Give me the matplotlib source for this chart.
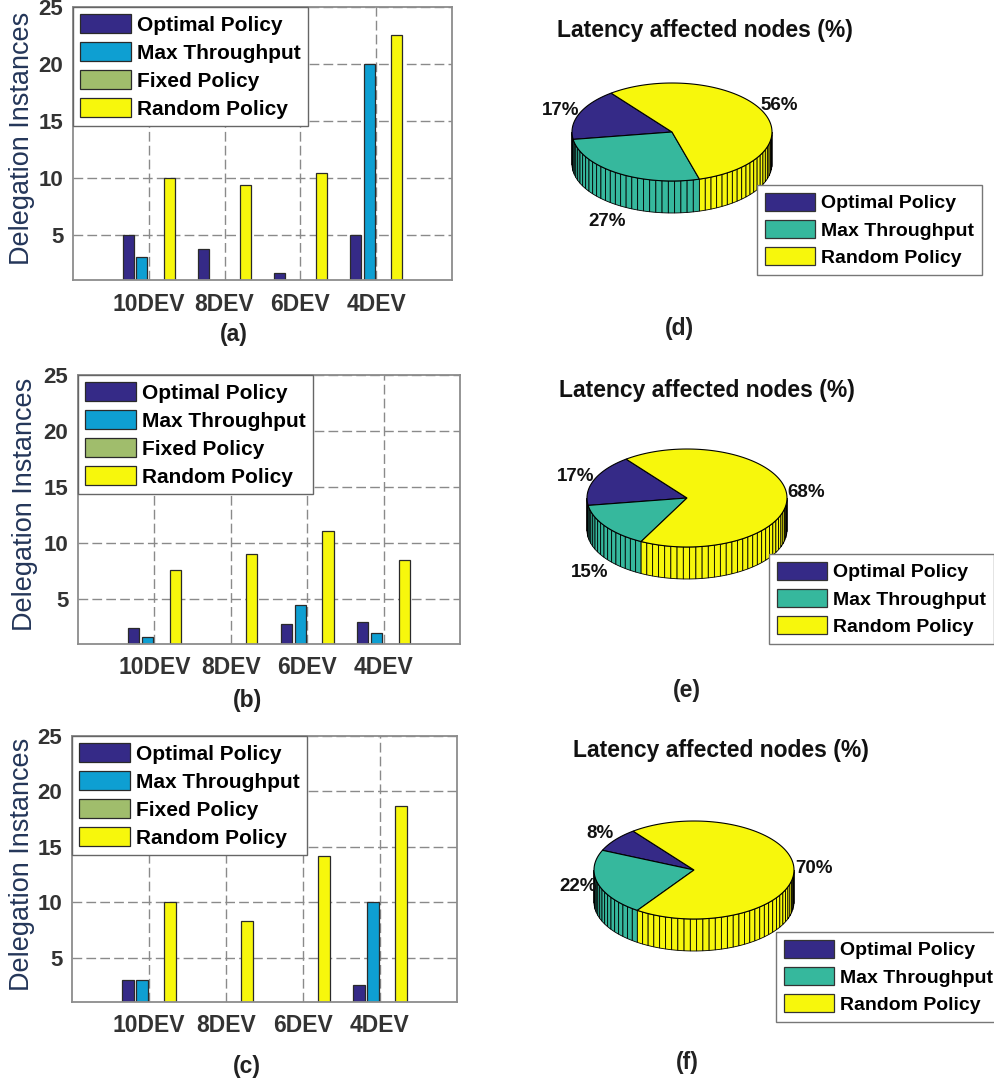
import numpy as np
import matplotlib
matplotlib.use("Agg")
import matplotlib.pyplot as plt
from matplotlib.patches import Patch

plt.rcParams['font.family'] = ['Liberation Sans', 'DejaVu Sans']

# bar chart data (delegation instances per device count)
devices = ['10DEV', '8DEV', '6DEV', '4DEV']
bar_policies = ['Optimal Policy', 'Max Throughput', 'Fixed Policy', 'Random Policy']

a_optimal = [5.0, 3.75, 1.6, 5.0]
a_maxtp = [3.0, 0.0, 0.0, 20.0]
a_fixed = [0.0, 0.0, 0.0, 0.0]
a_random = [10.0, 9.35, 10.4, 22.5]

b_optimal = [2.4, 0.0, 2.8, 3.0]
b_maxtp = [1.6, 0.0, 4.5, 2.0]
b_fixed = [0.0, 0.0, 0.0, 0.0]
b_random = [7.6, 9.0, 11.1, 8.5]

c_optimal = [3.0, 0.0, 0.0, 2.5]
c_maxtp = [3.0, 0.0, 0.0, 10.0]
c_fixed = [0.0, 0.0, 0.0, 0.0]
c_random = [10.0, 8.3, 14.2, 18.7]

y_ticks = [5, 10, 15, 20, 25]

# pie chart data (latency affected nodes, %)
pie_policies = ['Optimal Policy', 'Max Throughput', 'Random Policy']
d_share = [17, 27, 56]
e_share = [17, 15, 68]
f_share = [8, 22, 70]

bar_colors = ['#352a87', '#0e9fd2', '#a0bd6c', '#f7f70c']
pie_colors = ['#352a87', '#36b89d', '#f7f70c']

W, H = 994, 1084
fig = plt.figure(figsize=(W / 100, H / 100), dpi=100)


def box(left, top, right, bottom):
    return [left / W, 1 - bottom / H, (right - left) / W, (bottom - top) / H]


def fpos(x, y):
    return (x / W, 1 - y / H)


def bar_panel(rect, series, ylab_x, caption, cap_xy):
    ax = fig.add_axes(box(*rect))
    x = np.arange(1, len(devices) + 1)
    n = len(series)
    gw = min(0.8, n / (n + 1.5))
    bw = gw / n
    for i, vals in enumerate(series):
        off = (i - (n - 1) / 2) * bw
        ax.bar(x + off, vals, width=bw * 0.8, color=bar_colors[i],
               edgecolor='#2a2a2a', linewidth=0.9, label=bar_policies[i])
    ax.set_xlim(0, 5)
    ax.set_ylim(1, 25)
    ax.set_xticks(x)
    ax.set_xticklabels(devices, fontsize=16.5, fontweight='bold')
    ax.set_yticks(y_ticks)
    ax.set_yticklabels([str(t) for t in y_ticks], fontsize=16, fontweight='bold')
    ax.tick_params(length=0, labelcolor='#333333')
    ax.tick_params(axis='x', pad=9)
    ax.tick_params(axis='y', pad=7)
    ax.set_axisbelow(True)
    ax.grid(True, color='#8a8a8a', linestyle=(0, (7, 3)), linewidth=1.0)
    for s in ax.spines.values():
        s.set_color('#8c8c8c')
        s.set_linewidth(1.3)
    leg = ax.legend(loc='upper left', bbox_to_anchor=(0, 1), borderaxespad=0,
                    handlelength=2.45, handleheight=1.0,
                    handletextpad=0.25, labelspacing=0.36, borderpad=0.35,
                    fancybox=False, framealpha=1,
                    prop={'weight': 'bold', 'size': 15})
    leg.get_frame().set_edgecolor('#666666')
    leg.get_frame().set_linewidth(1.0)
    cy = (rect[1] + rect[3]) / 2 - 5
    fig.text(*fpos(ylab_x, cy), 'Delegation Instances', rotation=90,
             ha='center', va='center', fontsize=19.5, color='#243659')
    fig.text(*fpos(*cap_xy), caption, ha='center', va='center',
             fontsize=16.5, fontweight='bold', color='#222222')
    return ax


def pie_panel(center, shares, title, title_xy, caption, cap_xy, leg_xy):
    cx, cy = center
    ax = fig.add_axes(box(cx - 170, cy - 150, cx + 170, cy + 150))
    ax.set_xlim(-1.7, 1.7)
    ax.set_ylim(-1.5, 1.5)
    ax.axis('off')
    k = 0.49      # flattening of the top ellipse
    t = 0.32      # height of the cylinder side
    total = float(sum(shares))
    start = 127.5
    bounds = []
    for v in shares:
        span = 360.0 * v / total
        bounds.append((start, start + span))
        start += span

    # side facets on the visible front half
    for (a1, a2), col in zip(bounds, pie_colors):
        nf = max(2, int(np.ceil(100 * (a2 - a1) / 360.0)))
        grid = np.linspace(a1, a2, nf + 1)
        for g1, g2 in zip(grid[:-1], grid[1:]):
            lo, hi = max(g1, 180.0), min(g2, 360.0)
            if hi <= lo:
                continue
            th = np.radians(np.linspace(lo, hi, 4))
            xs = np.cos(th)
            ys = k * np.sin(th)
            px = np.concatenate([xs, xs[::-1]])
            py = np.concatenate([ys, ys[::-1] - t])
            ax.fill(px, py, facecolor=col, edgecolor='black', linewidth=0.6)

    # top surface wedges
    for (a1, a2), col in zip(bounds, pie_colors):
        th = np.radians(np.linspace(a1, a2, 120))
        px = np.concatenate([[0], np.cos(th), [0]])
        py = np.concatenate([[0], k * np.sin(th), [0]])
        ax.fill(px, py, facecolor=col, edgecolor='black', linewidth=0.8)

    # percentage labels
    for (a1, a2), v in zip(bounds, shares):
        m = np.radians((a1 + a2) / 2)
        lx, ly = 1.2 * np.cos(m), 1.2 * k * np.sin(m)
        va = 'center'
        if np.sin(m) < -0.5:
            ly -= t
            va = 'top'
        ax.text(lx, ly, f'{v}%', ha='center', va=va, fontsize=13.5,
                fontweight='bold', color='#111111')

    handles = [Patch(facecolor=c, edgecolor='#333333', linewidth=0.9) for c in pie_colors]
    leg = fig.legend(handles, pie_policies, loc='upper left',
                     bbox_to_anchor=fpos(*leg_xy), bbox_transform=fig.transFigure,
                     borderaxespad=0, handlelength=2.6, handleheight=1.05,
                     handletextpad=0.3, labelspacing=0.39, borderpad=0.4,
                     fancybox=False, framealpha=1,
                     prop={'weight': 'bold', 'size': 14})
    leg.get_frame().set_edgecolor('#777777')
    leg.get_frame().set_linewidth(1.0)
    fig.text(*fpos(*title_xy), title, ha='center', va='center',
             fontsize=16.5, fontweight='bold', color='#111111')
    fig.text(*fpos(*cap_xy), caption, ha='center', va='center',
             fontsize=16.5, fontweight='bold', color='#222222')


bar_panel((73, 7, 452, 280), [a_optimal, a_maxtp, a_fixed, a_random], 22, '(a)', (234, 335))
bar_panel((78, 375, 460, 644), [b_optimal, b_maxtp, b_fixed, b_random], 25, '(b)', (248, 700))
bar_panel((72, 736, 457, 1002), [c_optimal, c_maxtp, c_fixed, c_random], 22, '(c)', (247, 1067))

pie_title = 'Latency affected nodes (%)'
pie_panel((672, 132), d_share, pie_title, (705, 30), '(d)', (679, 328), (757, 185))
pie_panel((687, 498), e_share, pie_title, (707, 390), '(e)', (687, 690), (769, 554))
pie_panel((694, 870), f_share, pie_title, (721, 751), '(f)', (687, 1062), (776, 932))

fig.savefig('out.png', dpi=100)
